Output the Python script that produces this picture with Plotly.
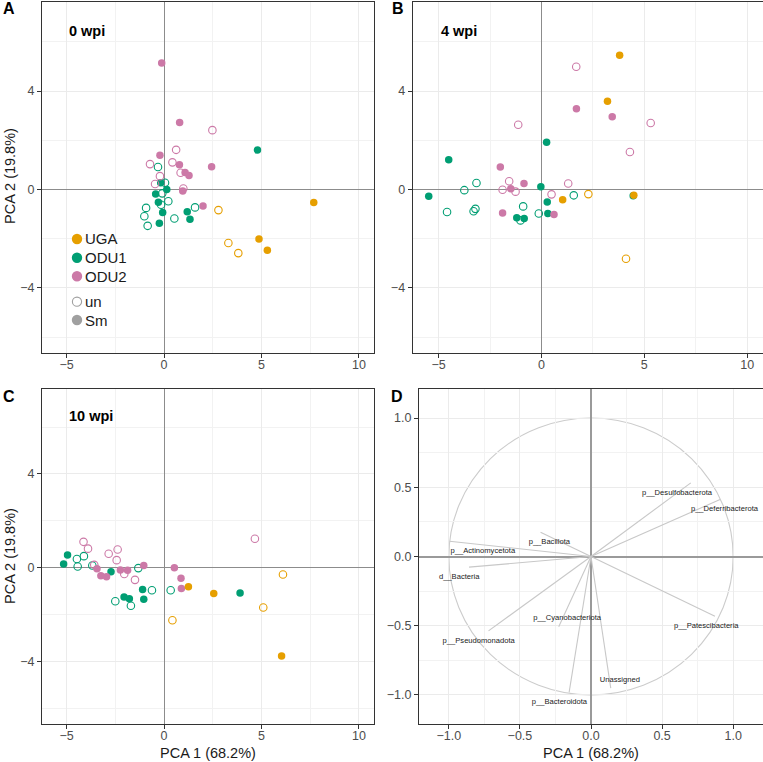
import plotly.graph_objects as go

# ---------------- data ----------------
sites = ["UGA", "ODU1", "ODU2"]
site_colors = {"UGA": "#E69F00", "ODU1": "#009E73", "ODU2": "#CC79A7"}
treatments = ["un", "Sm"]

# Panel A: 0 wpi
A_pc1 = [-0.31, 0.05, -0.09, 0.22, -0.15, -0.92, -1.01, 0.53, 1.59, -0.84,
         4.79, -0.17, 0.14, -0.43, -0.29, -0.07, 1.19, 1.33, -0.24,
         2.48, 0.62, 0.43, -0.72, 0.85, -0.21, -0.46, 0.99,
         -0.12, 0.80, -0.21, 0.79, 1.08, 1.28, 2.44, 0.96, 2.00,
         2.79, 3.30, 3.81,
         7.68, 4.87, 5.30]
A_pc2 = [0.91, 0.27, -0.16, -0.48, -0.62, -0.75, -1.09, -1.18, -0.73, -1.48,
         1.60, 0.27, 0.00, -0.19, -0.52, -0.94, -0.91, -1.21, -1.38,
         2.41, 1.61, 1.10, 1.03, 0.68, 0.54, 0.22, 0.04,
         5.14, 2.72, 1.39, 1.00, 0.69, 0.57, 0.92, -0.06, -0.67,
         -0.84, -2.18, -2.59,
         -0.53, -2.02, -2.47]
A_site = ["ODU1"] * 10 + ["ODU1"] * 9 + ["ODU2"] * 8 + ["ODU2"] * 9 + ["UGA"] * 3 + ["UGA"] * 3
A_trt = ["un"] * 10 + ["Sm"] * 9 + ["un"] * 8 + ["Sm"] * 9 + ["un"] * 3 + ["Sm"] * 3

# Panel B: 4 wpi
B_pc1 = [-3.16, -3.75, -4.59, -3.21, -3.30, -0.89, -0.13, -1.02, 1.57,
         -4.51, -5.48, 0.25, -0.03, 0.28, 0.31, -1.20, -0.84, 4.46,
         1.69, -1.13, 5.31, 4.30, -1.57, 1.30, -1.89, -1.26, 0.49,
         1.70, 3.44, -2.00, -0.85, -1.49, -1.89, 0.61,
         2.28, 4.11,
         3.80, 3.21, 1.03, 4.49]
B_pc2 = [0.26, -0.03, -0.92, -0.79, -0.89, -0.69, -0.98, -1.26, -0.24,
         1.21, -0.28, 1.92, 0.11, -0.51, -0.98, -1.15, -1.18, -0.26,
         4.99, 2.63, 2.70, 1.52, 0.33, 0.24, -0.01, -0.09, -0.20,
         3.28, 2.95, 0.91, 0.24, 0.03, -0.96, -1.02,
         -0.19, -2.82,
         5.46, 3.58, -0.42, -0.24]
B_site = ["ODU1"] * 9 + ["ODU1"] * 9 + ["ODU2"] * 9 + ["ODU2"] * 7 + ["UGA"] * 2 + ["UGA"] * 4
B_trt = ["un"] * 9 + ["Sm"] * 9 + ["un"] * 9 + ["Sm"] * 7 + ["un"] * 2 + ["Sm"] * 4

# Panel C: 10 wpi
C_pc1 = [-4.47, -4.43, -4.11, -3.68, -2.50, -1.70, -1.32, -0.62, 0.34,
         -5.15, -4.95, -2.72, -2.05, -1.78, -1.10, -1.04, 3.90,
         -4.13, -3.90, -2.84, -2.38, -2.43, -3.58, -2.04, -1.49, 4.66,
         -3.44, -3.24, -2.95, -2.24, -1.87, -1.04, 0.53, 0.87, 0.89,
         6.10, 5.09, 0.43,
         1.25, 2.55, 6.03]
C_pc2 = [0.38, 0.06, 0.50, 0.10, -1.42, -1.61, -0.01, -0.95, -0.95,
         0.17, 0.55, -0.16, -1.24, -1.31, -0.92, -1.34, -1.07,
         1.11, 0.82, 0.60, 0.78, 0.33, 0.13, -0.26, -0.51, 1.24,
         -0.04, -0.34, -0.38, -0.09, -0.10, 0.10, 0.01, -0.44, -0.88,
         -0.28, -1.69, -2.23,
         -0.80, -1.09, -3.75]
C_site = ["ODU1"] * 9 + ["ODU1"] * 8 + ["ODU2"] * 9 + ["ODU2"] * 9 + ["UGA"] * 3 + ["UGA"] * 3
C_trt = ["un"] * 9 + ["Sm"] * 8 + ["un"] * 9 + ["Sm"] * 9 + ["un"] * 3 + ["Sm"] * 3

# Panel D: loadings
taxa = ["p__Desulfobacterota", "p__Deferribacterota", "p__Patescibacteria", "Unassigned",
        "p__Bacteroidota", "p__Cyanobacteriota", "p__Pseudomonadota", "d__Bacteria",
        "p__Actinomycetota", "p__Bacillota"]
load_pc1 = [0.702, 0.908, 0.872, 0.139, -0.154, -0.227, -0.721, -0.858, -0.995, -0.355]
load_pc2 = [0.532, 0.412, -0.431, -0.951, -0.982, -0.508, -0.537, -0.077, 0.110, 0.175]
label_pc1 = [0.605, 0.939, 0.811, 0.203, -0.222, -0.168, -0.790, -0.927, -0.761, -0.293]
label_pc2 = [0.460, 0.343, -0.500, -0.891, -1.051, -0.448, -0.608, -0.146, 0.036, 0.105]

panel_titles = ["0 wpi", "4 wpi", "10 wpi"]
x_title = "PCA 1 (68.2%)"
y_title = "PCA 2 (19.8%)"
legend_labels = ["UGA", "ODU1", "ODU2", "un", "Sm"]
legend_gray = "#a0a0a0"

# ---------------- figure ----------------
W, H = 763, 762
FONT = "Liberation Sans, Arial, Helvetica, sans-serif"

def px(x):
    return x / W

def py(y):
    return 1 - y / H

fig = go.Figure()

panels = [("x", "y", A_pc1, A_pc2, A_site, A_trt),
          ("x2", "y2", B_pc1, B_pc2, B_site, B_trt),
          ("x3", "y3", C_pc1, C_pc2, C_site, C_trt)]

order = [("ODU1", "un"), ("ODU1", "Sm"), ("ODU2", "un"), ("ODU2", "Sm"), ("UGA", "un"), ("UGA", "Sm")]
for xa, ya, p1, p2, st, tr in panels:
    for s, t in order:
        xs = [a for a, ss, tt in zip(p1, st, tr) if ss == s and tt == t]
        ys = [b for b, ss, tt in zip(p2, st, tr) if ss == s and tt == t]
        if t == "un":
            mk = dict(symbol="circle-open", size=7.5, color=site_colors[s], line=dict(width=1.1, color=site_colors[s]))
        else:
            mk = dict(symbol="circle", size=7.5, color=site_colors[s], line=dict(width=0))
        fig.add_trace(go.Scatter(x=xs, y=ys, mode="markers", marker=mk, xaxis=xa, yaxis=ya,
                                 showlegend=False, hoverinfo="skip"))

# loadings lines
lx, ly = [], []
for a, b in zip(load_pc1, load_pc2):
    lx += [0, a, None]
    ly += [0, b, None]
fig.add_trace(go.Scatter(x=lx, y=ly, mode="lines", line=dict(color="#c8c8c8", width=1.1),
                         xaxis="x4", yaxis="y4", showlegend=False, hoverinfo="skip"))
fig.add_trace(go.Scatter(x=label_pc1, y=label_pc2, mode="text", text=taxa,
                         textfont=dict(size=7.6, color="#1a1a1a", family=FONT),
                         xaxis="x4", yaxis="y4", showlegend=False, hoverinfo="skip"))

shapes = [dict(type="circle", xref="x4", yref="y4", x0=-1, y0=-1, x1=1, y1=1,
               line=dict(color="#cccccc", width=1.1), layer="below")]

# manual legend inside panel A
leg_rows = [239, 257.7, 276.3, 301.7, 320]
leg_fill = [site_colors["UGA"], site_colors["ODU1"], site_colors["ODU2"], None, legend_gray]
ann = []
for lab, yy, fc in zip(legend_labels, leg_rows, leg_fill):
    if fc is None:
        shapes.append(dict(type="circle", xref="paper", yref="paper", xsizemode="pixel", ysizemode="pixel",
                           xanchor=px(77), yanchor=py(yy), x0=-4.6, x1=4.6, y0=-4.6, y1=4.6,
                           line=dict(color=legend_gray, width=1.1), fillcolor="rgba(0,0,0,0)"))
    else:
        shapes.append(dict(type="circle", xref="paper", yref="paper", xsizemode="pixel", ysizemode="pixel",
                           xanchor=px(77), yanchor=py(yy), x0=-5.2, x1=5.2, y0=-5.2, y1=5.2,
                           line=dict(width=0), fillcolor=fc))
    ann.append(dict(text=lab, x=px(83), y=py(yy), xref="paper", yref="paper",
                    xanchor="left", yanchor="middle", showarrow=False,
                    font=dict(size=15, color="#1a1a1a", family=FONT)))

def axis(domain, rng, dtick, minor_dtick, anchor, zl_width=1.2, zl_color="#8c8c8c", fmt=None, is_x=True):
    d = dict(domain=domain, range=rng, dtick=dtick, tick0=0, anchor=anchor,
             showline=True, mirror=True, linecolor="#333333", linewidth=1.2,
             ticks="outside", ticklen=4, tickwidth=1, tickcolor="#333333",
             tickfont=dict(size=12.5, color="#4d4d4d", family=FONT),
             showgrid=True, gridcolor="#ebebeb", gridwidth=1,
             minor=dict(dtick=minor_dtick, tick0=0, showgrid=True, gridcolor="#f2f2f2", gridwidth=0.6, ticks=""),
             zeroline=True, zerolinecolor=zl_color, zerolinewidth=zl_width, fixedrange=True)
    if is_x:
        d["ticklabelstandoff"] = -4
    if fmt:
        d["tickformat"] = fmt
    return d

XR = [-6.26, 10.77]
YR = [-6.65, 7.62]
xA = [px(42), px(374)]
xB = [px(412.7), 1.0]
xD = [px(419), 1.0]
yTop = [py(353), py(2)]
yBot = [py(724), py(389)]

fig.update_layout(
    width=W, height=H,
    margin=dict(l=0, r=0, t=0, b=0),
    paper_bgcolor="white", plot_bgcolor="white",
    font=dict(family=FONT, color="#1a1a1a"),
    xaxis=axis(xA, XR, 5, 2.5, "y"),
    yaxis=axis(yTop, YR, 4, 2, "x", is_x=False),
    xaxis2=axis(xB, XR, 5, 2.5, "y2"),
    yaxis2=axis(yTop, YR, 4, 2, "x2", is_x=False),
    xaxis3=axis(xA, XR, 5, 2.5, "y3"),
    yaxis3=axis(yBot, YR, 4, 2, "x3", is_x=False),
    xaxis4=axis(xD, [-1.21, 1.21], 0.5, 0.25, "y4", 1.8, "#9a9a9a", ".1f"),
    yaxis4=axis(yBot, [-1.21, 1.21], 0.5, 0.25, "x4", 1.8, "#9a9a9a", ".1f", is_x=False),
    showlegend=False,
)

for lab, x, y in [("A", 1, 9), ("B", 390, 9), ("C", 1, 396), ("D", 389, 396)]:
    ann.append(dict(text="<b>%s</b>" % lab, x=px(x), y=py(y), xref="paper", yref="paper",
                    xanchor="left", yanchor="middle", showarrow=False,
                    font=dict(size=16, color="black", family=FONT)))
for t, xr, yr in zip(panel_titles, ["x", "x2", "x3"], ["y", "y2", "y3"]):
    ann.append(dict(text="<b>%s</b>" % t, x=-5, y=6.45, xref=xr, yref=yr,
                    xanchor="left", yanchor="middle", showarrow=False,
                    font=dict(size=14.5, color="black", family=FONT)))
for yc in [176, 556]:
    ann.append(dict(text=y_title, x=px(10), y=py(yc), xref="paper", yref="paper",
                    textangle=-90, xanchor="center", yanchor="middle", showarrow=False,
                    font=dict(size=14.5, color="#1a1a1a", family=FONT)))
for xc in [208, 591]:
    ann.append(dict(text=x_title, x=px(xc), y=py(753), xref="paper", yref="paper",
                    xanchor="center", yanchor="middle", showarrow=False,
                    font=dict(size=14.5, color="#1a1a1a", family=FONT)))
fig.update_layout(annotations=ann, shapes=shapes)

fig.write_html("out.html")
